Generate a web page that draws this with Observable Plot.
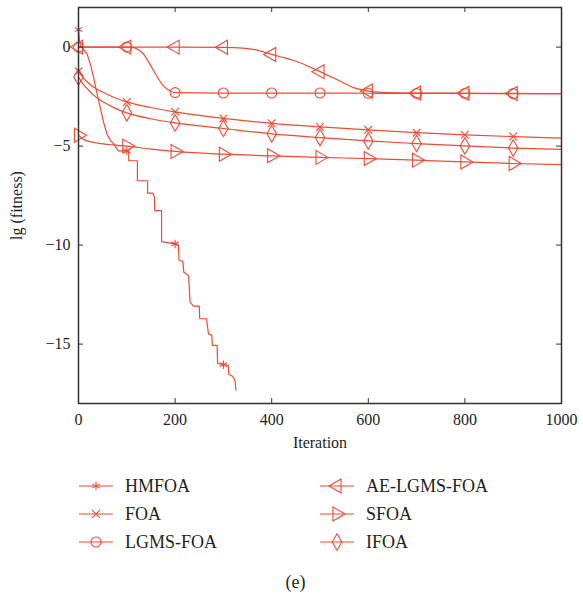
<!DOCTYPE html>
<html><head><meta charset="utf-8">
<script src="https://cdn.jsdelivr.net/npm/d3@7"></script>
<script src="https://cdn.jsdelivr.net/npm/@observablehq/plot@0.6"></script>
<style>
body{margin:0;background:#fff;font-family:"Liberation Serif",serif;color:#231f20;}
#wrap{width:583px;}
#legend{display:grid;grid-template-columns:241px 200px;grid-auto-rows:28px;margin-top:12px;padding-left:79px;}
.item{display:flex;align-items:center;font-size:18px;}
.item svg{margin-right:12px;flex:none;}
#cap{text-align:center;font-size:18px;margin-top:16px;line-height:20px;padding-left:8px;}
</style></head><body>
<div id="wrap"><div id="chart"></div><div id="legend"></div><div id="cap">(e)</div></div>
<script>
const seriesNames = ["HMFOA", "FOA", "LGMS-FOA", "AE-LGMS-FOA", "SFOA", "IFOA"];
const seriesSymbols = ["asterisk", "times", "circle", "triangle", "triangle", "diamond"];
const seriesRotate = [0, 0, 0, -90, 90, 0];
const seriesR = [4, 3.6, 5, 5.2, 5.2, 5];

const hmfoaIter = [0, 2, 5, 10, 18, 25, 31, 38, 45, 52, 59, 66, 73, 80, 82, 100, 104, 104, 122, 122, 143, 143, 154, 157, 158, 172, 172, 200, 207, 208, 216, 218, 228, 231, 238, 250, 251, 265, 269, 276, 277, 287, 288, 300, 310, 311, 319, 324, 326];
const hmfoaVal = [0.89, 0.3, 0, -0.1, -0.37, -0.9, -1.5, -2.3, -3.06, -3.8, -4.4, -4.7, -4.9, -5.15, -5.24, -5.24, -5.24, -5.74, -5.74, -6.75, -6.75, -7.37, -7.37, -7.56, -8.26, -8.26, -9.82, -9.94, -10.0, -10.75, -10.82, -11.37, -11.54, -12.88, -13.08, -13.08, -13.72, -13.72, -14.47, -14.56, -15.06, -15.06, -15.98, -16.04, -16.07, -16.52, -16.62, -16.83, -17.33];

const foaIter = [0, 5, 10, 20, 30, 50, 75, 100, 150, 200, 300, 400, 500, 600, 700, 800, 900, 1000];
const foaVal = [-1.22, -1.4, -1.55, -1.8, -2.0, -2.27, -2.56, -2.77, -3.05, -3.27, -3.6, -3.85, -4.03, -4.18, -4.32, -4.43, -4.52, -4.6];

const lgmsIter = [0, 100, 114, 125, 135, 148, 162, 176, 190, 200, 300, 400, 500, 600, 700, 800, 900, 1000];
const lgmsVal = [0, 0, -0.03, -0.15, -0.37, -0.87, -1.46, -1.96, -2.22, -2.3, -2.32, -2.32, -2.32, -2.33, -2.34, -2.34, -2.35, -2.35];

const aeIter = [0, 100, 200, 300, 340, 370, 400, 420, 460, 500, 540, 570, 600, 640, 700, 800, 900, 1000];
const aeVal = [0, 0, 0, -0.01, -0.05, -0.15, -0.37, -0.5, -0.8, -1.24, -1.7, -2.05, -2.22, -2.3, -2.32, -2.33, -2.34, -2.35];

const sfoaIter = [0, 5, 10, 20, 40, 70, 100, 150, 200, 300, 400, 500, 600, 700, 800, 900, 1000];
const sfoaVal = [-4.45, -4.55, -4.65, -4.75, -4.85, -4.94, -5.0, -5.15, -5.27, -5.41, -5.49, -5.57, -5.63, -5.71, -5.8, -5.88, -5.94];

const ifoaIter = [0, 5, 10, 20, 30, 50, 75, 100, 150, 200, 300, 400, 500, 600, 700, 800, 900, 1000];
const ifoaVal = [-1.51, -1.7, -1.88, -2.15, -2.4, -2.75, -3.08, -3.32, -3.62, -3.83, -4.11, -4.38, -4.57, -4.74, -4.87, -4.99, -5.1, -5.17];

const xTicks = [0, 200, 400, 600, 800, 1000];
const yTicks = [-15, -10, -5, 0];
const color = "#ef4b33";

const W = 583, H = 460, mL = 78, mR = 22, mT = 7, mB = 57;
const plotW = W - mL - mR, plotH = H - mT - mB, tickLen = 5;

const iters = [hmfoaIter, foaIter, lgmsIter, aeIter, sfoaIter, ifoaIter];
const vals = [hmfoaVal, foaVal, lgmsVal, aeVal, sfoaVal, ifoaVal];
const rows = seriesNames.flatMap((name, i) => iters[i].map((it, j) => ({series: name, idx: i, iter: it, val: vals[i][j]})));
const markerRows = rows.filter(d => d.iter % 100 === 0 && d.iter < 1000);

const fmt = d => d < 0 ? "\u2212" + Math.abs(d) : String(d);

const lineMarks = seriesNames.map((name, i) => Plot.line(rows.filter(d => d.idx === i), {
  x: "iter", y: "val", stroke: color, strokeWidth: 1.2,
  curve: i === 0 ? "linear" : "monotone-x"
}));
const dotMarks = seriesNames.map((name, i) => Plot.dot(markerRows.filter(d => d.idx === i), {
  x: "iter", y: "val", symbol: seriesSymbols[i], r: seriesR[i], rotate: seriesRotate[i],
  stroke: color, fill: "none", strokeWidth: 1.1
}));

const chart = Plot.plot({
  width: W, height: H,
  marginLeft: mL, marginRight: mR, marginTop: mT, marginBottom: mB,
  style: {fontFamily: "Liberation Serif, serif", fontSize: "16px", color: "#231f20", background: "#fff"},
  x: {domain: [0, 1000]},
  y: {domain: [-18, 2]},
  marks: [
    ...lineMarks,
    ...dotMarks,
    Plot.axisX(xTicks, {anchor: "bottom", tickSize: 0, tickPadding: 10, tickFormat: fmt, label: "Iteration", labelAnchor: "center", labelOffset: 44, labelArrow: "none"}),
    Plot.axisY(yTicks, {anchor: "left", tickSize: 0, tickPadding: 8, tickFormat: fmt, label: "lg (fitness)", labelAnchor: "center", labelOffset: 68, labelArrow: "none"}),
    Plot.ruleX(xTicks, {insetTop: plotH - tickLen, stroke: "#333", strokeWidth: 1}),
    Plot.ruleX(xTicks, {insetBottom: plotH - tickLen, stroke: "#333", strokeWidth: 1}),
    Plot.ruleY(yTicks, {insetRight: plotW - tickLen, stroke: "#333", strokeWidth: 1}),
    Plot.ruleY(yTicks, {insetLeft: plotW - tickLen, stroke: "#333", strokeWidth: 1}),
    Plot.frame({stroke: "#333", strokeWidth: 1.5})
  ]
});
document.getElementById("chart").appendChild(chart);

// legend
const order = [0, 3, 1, 4, 2, 5];
const legend = d3.select("#legend");
const typeMap = {asterisk: d3.symbolAsterisk, times: d3.symbolTimes, circle: d3.symbolCircle, triangle: d3.symbolTriangle, diamond: d3.symbolDiamond};
order.forEach(i => {
  const item = legend.append("div").attr("class", "item");
  const svg = item.append("svg").attr("width", 34).attr("height", 20);
  svg.append("line").attr("x1", 0).attr("x2", 34).attr("y1", 10).attr("y2", 10)
    .attr("stroke", color).attr("stroke-width", 1.2);
  svg.append("path")
    .attr("d", d3.symbol().type(typeMap[seriesSymbols[i]]).size(seriesR[i] * seriesR[i] * Math.PI)())
    .attr("transform", `translate(17,10) rotate(${seriesRotate[i]})`)
    .attr("fill", "none").attr("stroke", color).attr("stroke-width", 1.1);
  item.append("span").text(seriesNames[i]);
});
</script>
</body></html>
